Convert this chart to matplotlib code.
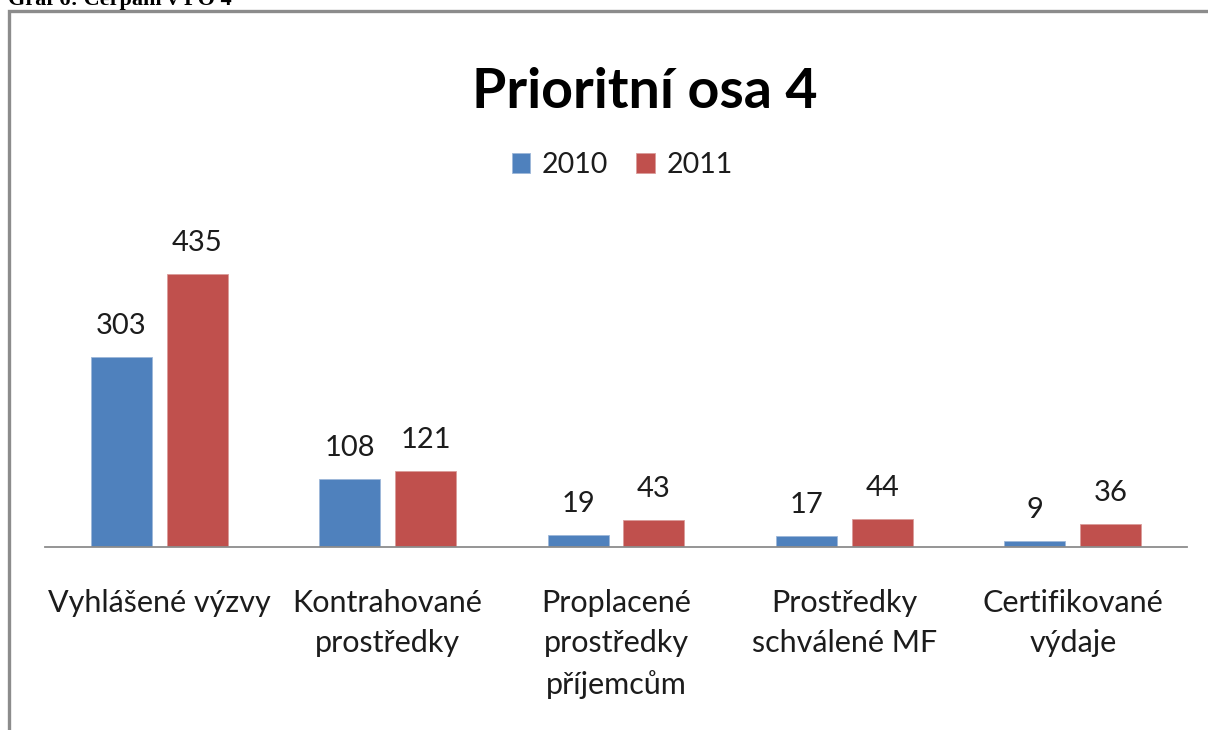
import matplotlib
matplotlib.use('Agg')
from matplotlib import pyplot
from matplotlib.patches import Rectangle, Patch
import numpy as np

matplotlib.rcParams['font.family'] = ['Lato', 'DejaVu Sans']

####

categories = ['Vyhlášené výzvy',
              'Kontrahované\nprostředky',
              'Proplacené\nprostředky\npříjemcům',
              'Prostředky\nschválené MF',
              'Certifikované\nvýdaje']
years = ['2010', '2011']
vals_2010 = [303, 108, 19, 17, 9]
vals_2011 = [435, 121, 43, 44, 36]

C_BLUE = '#4F81BD'
C_RED = '#C0504D'
TXT = '#1c1c1c'

W, H = 1208, 730
fig = pyplot.figure(figsize=(W/100, H/100), dpi=100)

# frame of the embedded chart (gray border, cut off right and bottom)
fig.patches.append(Rectangle((9/W, -0.1), 1.2, 1 - 11/H + 0.1,
                             transform=fig.transFigure, fill=False,
                             edgecolor='#8c8c8c', lw=2.4))

# document caption, mostly cut off at the top
fig.text(8/W, 1 - 5/H, 'Graf 6: Čerpání v PO 4', family='Liberation Serif',
         weight='bold', fontsize=16, va='baseline', ha='left', color='black')

ax = fig.add_axes([45/W, 183/H, 1142/W, (547-220)/H])

x = np.arange(len(categories))
bw = 0.267
off = 0.166
b1 = ax.bar(x - off, vals_2010, bw, color=C_BLUE, edgecolor='#9DB7D9', lw=0.6)
b2 = ax.bar(x + off, vals_2011, bw, color=C_RED, edgecolor='#DA9C9A', lw=0.6)

for bars, vals in [(b1, vals_2010), (b2, vals_2011)]:
    for r, v in zip(bars, vals):
        ax.annotate(str(v), (r.get_x() + r.get_width()/2, v),
                    xytext=(0, 13), textcoords='offset points',
                    ha='center', va='bottom', fontsize=21, color=TXT)

ax.set_xlim(-0.5, len(categories) - 0.5)
ax.set_ylim(0, 521)

for s in ['top', 'right', 'left']:
    ax.spines[s].set_visible(False)
ax.spines['bottom'].set_color('#8c8c8c')
ax.spines['bottom'].set_linewidth(1.3)
ax.set_yticks([])
ax.set_xticks(x)
ax.set_xticklabels(categories, fontsize=22, color=TXT, linespacing=1.55, va='top')
ax.tick_params(axis='x', length=0, pad=30)

fig.text(645/W, 1 - 108/H, 'Prioritní osa 4', ha='center', va='baseline',
         fontsize=40, weight='bold', color='black')

handles = [Patch(facecolor=C_BLUE, edgecolor='#9DB7D9', lw=0.6),
           Patch(facecolor=C_RED, edgecolor='#DA9C9A', lw=0.6)]
fig.legend(handles, years, loc='center', bbox_to_anchor=(622/W, 1 - 165/H),
           ncol=2, frameon=False, fontsize=20.5, handlelength=0.65,
           handleheight=0.65, handletextpad=0.4, columnspacing=1.0,
           labelcolor=TXT)

fig.savefig('out.png', dpi=100)
